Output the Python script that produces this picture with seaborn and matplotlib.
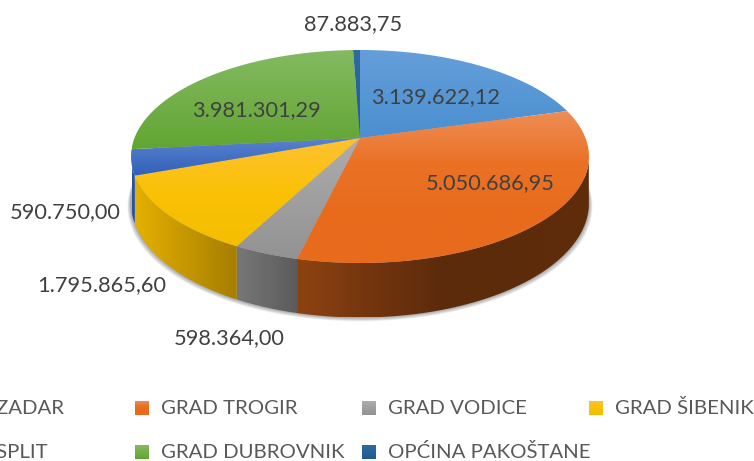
import numpy as np
import matplotlib
matplotlib.use('Agg')
import matplotlib.pyplot as plt
from matplotlib.patches import Polygon
import seaborn as sns

# Data
names = ['GRAD ZADAR', 'GRAD TROGIR', 'GRAD VODICE', 'GRAD ŠIBENIK',
         'GRAD SPLIT', 'GRAD DUBROVNIK', 'OPĆINA PAKOŠTANE']
values = [3139622.12, 5050686.95, 598364.00, 1795865.60,
          590750.00, 3981301.29, 87883.75]

# Colours: top face gradient and side wall gradient
top_cols = [['#659FDA', '#4A8FD0'],
            ['#EE8D55', '#EA7226', '#E86B1C', '#E86B1C'],
            ['#ADADAD', '#929292'],
            ['#FEC232', '#FAC106', '#F5BE00'],
            ['#5A82CF', '#2F60B8'],
            ['#84BA62', '#62A533'],
            ['#2F6AA0', '#1F5A90']]
wall_cols = [['#2E5F8E', '#2E5F8E'],
             ['#8E4211', '#73350E', '#5C2B0B', '#5C2B0A', '#602D0B'],
             ['#777777', '#5B5B5B'],
             ['#E4B000', '#A67E00'],
             ['#2A5AAA', '#234A90'],
             ['#3E6B22', '#3E6B22'],
             ['#1F4A70', '#1F4A70']]

# Label placement
label_pos = [(436, 97), (490, 183), (229, 338), (102, 285),
             (65, 212), (256, 110), (353, 24)]

# Pie projection
cx, cy = 360, 138
k = 0.1737
A, B = 225.5, 103.3
depth = 45

sns.set_theme(style='white')
plt.rcParams['font.family'] = ['Lato', 'DejaVu Sans']


def project(theta, drop=0.0):
    u, v = np.cos(theta), np.sin(theta)
    w = 1 + k * v
    return cx + A * u / w, cy - B * v / w + drop * depth / w


def grad_fill(ax, pts, cols, vertical=True, zorder=2):
    pts = np.asarray(pts)
    img = np.array(sns.blend_palette(cols, 128))
    img = img[:, None, :] if vertical else img[None, :, :]
    x0, x1 = pts[:, 0].min(), pts[:, 0].max()
    y0, y1 = pts[:, 1].min(), pts[:, 1].max()
    im = ax.imshow(img, extent=(x0, x1, y1, y0), aspect='auto', origin='upper',
                   interpolation='bilinear', zorder=zorder)
    patch = Polygon(pts, closed=True, transform=ax.transData,
                    facecolor='none', edgecolor='none')
    ax.add_patch(patch)
    im.set_clip_path(patch)


fig = plt.figure(figsize=(7.54, 4.61), dpi=100)
ax = fig.add_axes([0, 0, 1, 1])

# Soft shadow under the pie
t = np.linspace(0, 2 * np.pi, 300)
sx, sy = project(t, 1.0)
for i in range(1, 8):
    xs = cx + (sx - cx) * (1 + 0.0022 * i)
    ys = sy + 0.55 * i
    ax.fill(xs, ys, color='black', alpha=0.05, lw=0, zorder=1)

# Wedges, clockwise from 12 o'clock
fracs = np.array(values) / np.sum(values)
edges = np.pi / 2 - 2 * np.pi * np.concatenate([[0], np.cumsum(fracs)])
front_a, front_b = np.deg2rad(-165), np.deg2rad(-12)

for i in range(len(values)):
    start, end = edges[i], edges[i + 1]

    # Side wall, only the part facing the viewer
    a = min(start, front_b)
    b = max(end, front_a)
    if a > b:
        th = np.linspace(a, b, 60)
        x1, y1 = project(th)
        x2, y2 = project(th[::-1], 1.0)
        wall = np.column_stack([np.r_[x1, x2], np.r_[y1, y2]])
        grad_fill(ax, wall, wall_cols[i], vertical=False, zorder=2)

    # Top face
    th = np.linspace(start, end, 100)
    x1, y1 = project(th)
    top = np.column_stack([np.r_[cx, x1], np.r_[cy, y1]])
    grad_fill(ax, top, top_cols[i], vertical=True, zorder=3)

# Value labels
for v, (x, y) in zip(values, label_pos):
    txt = f'{v:,.2f}'.replace(',', '#').replace('.', ',').replace('#', '.')
    ax.text(x, y, txt, fontsize=15.7, color='#404040', ha='center', va='center', zorder=5)

# Legend, first column runs off the left edge like the original
for i, name in enumerate(names):
    row = 0 if i < 4 else 1
    col = i if i < 4 else i - 4
    mx = -85 + 227 * col
    my = 408 if row == 0 else 452
    grad_fill(ax, [(mx - 7, my - 7), (mx + 7, my - 7), (mx + 7, my + 7), (mx - 7, my + 7)],
              top_cols[i], vertical=True, zorder=4)
    ax.text(mx + 19, my, name, fontsize=14.7, color='#595959', ha='left', va='center', zorder=5)

ax.set_xlim(0, 754)
ax.set_ylim(461, 0)
ax.axis('off')

fig.savefig('out.png', dpi=100)
